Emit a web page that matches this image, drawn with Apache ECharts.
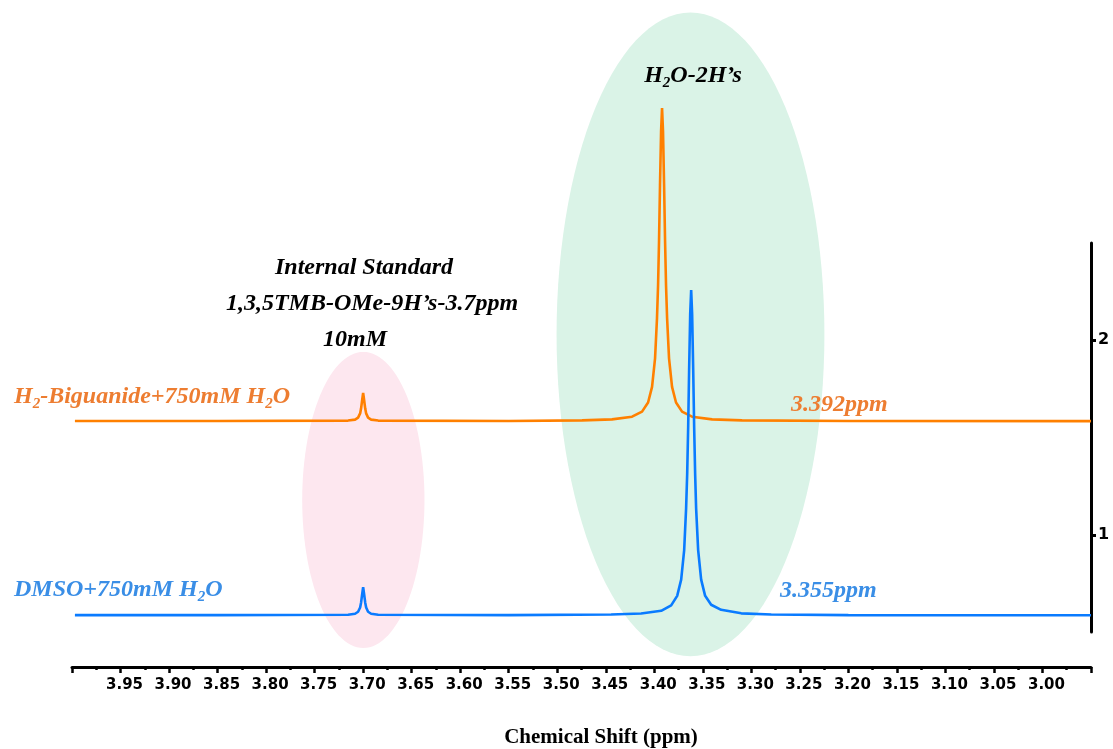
<!DOCTYPE html>
<html lang="en">
<head>
<meta charset="UTF-8">
<title>Chemical Shift</title>
<style>
    html, body { margin: 0; padding: 0; background: #fff; }
    #main { width: 1113px; height: 749px; }
</style>
<script src="https://cdn.jsdelivr.net/npm/echarts@6/dist/echarts.min.js"></script>
</head>
<body>
<div id="main"></div>
<script type="text/javascript">

    // [ppm, intensity]
    var biguanide = [
        [3.997, 1.585], [3.85, 1.585], [3.7155, 1.587], [3.7083, 1.592], [3.7052, 1.602],
        [3.7031, 1.624], [3.7021, 1.650], [3.7010, 1.693], [3.700, 1.729], [3.6990, 1.693],
        [3.6979, 1.650], [3.6969, 1.624], [3.6949, 1.602], [3.6918, 1.592], [3.6845, 1.587],
        [3.55, 1.585], [3.4745, 1.588], [3.4436, 1.593], [3.4229, 1.607], [3.4126, 1.633],
        [3.4064, 1.680], [3.4023, 1.760], [3.3992, 1.907], [3.3972, 2.114], [3.3961, 2.283],
        [3.3951, 2.512], [3.3941, 2.798], [3.3930, 3.073], [3.392, 3.194], [3.3910, 3.073],
        [3.3899, 2.798], [3.3889, 2.512], [3.3879, 2.283], [3.3868, 2.114], [3.3848, 1.907],
        [3.3817, 1.760], [3.3776, 1.680], [3.3714, 1.633], [3.3611, 1.607], [3.3404, 1.593],
        [3.3095, 1.588], [3.20, 1.585], [2.95, 1.584]
    ];
    var dmso = [
        [3.997, 0.587], [3.85, 0.587], [3.7155, 0.589], [3.7083, 0.594], [3.7052, 0.604],
        [3.7031, 0.626], [3.7021, 0.652], [3.7010, 0.695], [3.700, 0.731], [3.6990, 0.695],
        [3.6979, 0.652], [3.6969, 0.626], [3.6949, 0.604], [3.6918, 0.594], [3.6845, 0.589],
        [3.55, 0.587], [3.4445, 0.590], [3.4136, 0.595], [3.3929, 0.609], [3.3826, 0.637],
        [3.3764, 0.686], [3.3723, 0.769], [3.3692, 0.921], [3.3672, 1.137], [3.3661, 1.312],
        [3.3651, 1.550], [3.3641, 1.847], [3.3630, 2.133], [3.362, 2.258], [3.3610, 2.133],
        [3.3599, 1.847], [3.3589, 1.550], [3.3579, 1.312], [3.3569, 1.137], [3.3548, 0.921],
        [3.3517, 0.769], [3.3476, 0.686], [3.3414, 0.640], [3.3311, 0.614], [3.3104, 0.596],
        [3.2795, 0.590], [3.20, 0.587], [2.95, 0.586]
    ];
    // highlight ellipses: [center ppm, center intensity, half width (ppm), half height]
    var waterZone = [[3.3627, 2.030, 0.138, 1.655]];
    var standardZone = [[3.6998, 1.179, 0.063, 0.761]];
    var yTicks = [1, 2];

    var serif = "'Liberation Serif', 'Times New Roman', serif";
    var sans = "'DejaVu Sans', Verdana, sans-serif";

    function ellipseItem(params, api) {
        var c = api.coord([api.value(0), api.value(1)]);
        var s = api.size([api.value(2), api.value(3)]);
        var rx = Math.abs(s[0]), ry = Math.abs(s[1]);
        var pts = [];
        for (var i = 0; i < 120; i++) {
            var a = i / 120 * Math.PI * 2;
            pts.push([c[0] + rx * Math.cos(a), c[1] + ry * Math.sin(a)]);
        }
        return {
            type: 'polygon',
            shape: { points: pts },
            style: { fill: api.visual('color') }
        };
    }

    // rich styles for italic labels with subscripts (zrender names, no ec4 conversion)
    function richFor(color) {
        return {
            a: { fill: color, fontFamily: serif, fontSize: 24, fontWeight: 'bold', fontStyle: 'italic', lineHeight: 30 },
            s: { fill: color, fontFamily: serif, fontSize: 15, fontWeight: 'bold', fontStyle: 'italic', lineHeight: 15, padding: [14, 0, 0, 0] }
        };
    }

    function label(x, y, text, color, align) {
        return {
            type: 'text',
            x: x,
            y: y,
            z: 20,
            silent: true,
            style: {
                legacy: false,
                text: text,
                fill: color,
                rich: richFor(color),
                align: align,
                verticalAlign: 'middle'
            }
        };
    }

    var myChart = echarts.init(document.getElementById('main'));
    var option = {
        animation: false,
        grid: { left: 72, right: 22, top: 243, bottom: 117 },
        xAxis: {
            type: 'value',
            inverse: true,
            min: 2.95,
            max: 4.0,
            interval: 0.05,
            offset: 35,
            axisLine: { onZero: false, lineStyle: { color: '#000', width: 3 } },
            axisTick: { length: 6, lineStyle: { color: '#000', width: 2.5 } },
            minorTick: { show: true, splitNumber: 2, length: 3, lineStyle: { color: '#000', width: 2.5 } },
            splitLine: { show: false },
            axisLabel: {
                showMinLabel: false,
                showMaxLabel: false,
                margin: 11,
                color: '#000',
                fontFamily: sans,
                fontWeight: 'bold',
                fontSize: 15,
                padding: [0, 0, 0, 8],
                formatter: function (v) { return v.toFixed(2); }
            }
        },
        yAxis: {
            type: 'value',
            position: 'right',
            min: 0.5,
            max: 2.5,
            axisLine: { show: true, onZero: false, lineStyle: { color: '#000', width: 3 } },
            axisTick: { show: true, customValues: yTicks, length: 5, lineStyle: { color: '#000', width: 3 } },
            splitLine: { show: false },
            axisLabel: {
                customValues: yTicks,
                margin: 7,
                color: '#000',
                fontFamily: sans,
                fontWeight: 'bold',
                fontSize: 16
            }
        },
        series: [
            {
                type: 'custom',
                name: 'water',
                clip: false,
                silent: true,
                z: 1,
                itemStyle: { color: '#daf3e7' },
                encode: { x: 0, y: 1 },
                renderItem: ellipseItem,
                data: waterZone
            },
            {
                type: 'custom',
                name: 'standard',
                clip: false,
                silent: true,
                z: 1,
                itemStyle: { color: '#fde7ef' },
                encode: { x: 0, y: 1 },
                renderItem: ellipseItem,
                data: standardZone
            },
            {
                type: 'line',
                name: 'H2-Biguanide+750mM H2O',
                clip: false,
                z: 3,
                showSymbol: false,
                lineStyle: { color: '#ff8000', width: 2.6 },
                data: biguanide
            },
            {
                type: 'line',
                name: 'DMSO+750mM H2O',
                clip: false,
                z: 3,
                showSymbol: false,
                lineStyle: { color: '#0a7bff', width: 2.6 },
                data: dmso
            }
        ],
        graphic: [
            label(693, 76, '{a|H}{s|2}{a|O-2H’s}', '#000', 'center'),
            label(364, 268, '{a|Internal Standard}', '#000', 'center'),
            label(372, 304, '{a|1,3,5TMB-OMe-9H’s-3.7ppm}', '#000', 'center'),
            label(355, 340, '{a|10mM}', '#000', 'center'),
            label(14, 397, '{a|H}{s|2}{a|-Biguanide+750mM H}{s|2}{a|O}', '#ed7d31', 'left'),
            label(14, 590, '{a|DMSO+750mM H}{s|2}{a|O}', '#3a8ee6', 'left'),
            label(791, 405, '{a|3.392ppm}', '#ed7d31', 'left'),
            label(780, 591, '{a|3.355ppm}', '#3a8ee6', 'left'),
            {
                type: 'text',
                x: 601,
                y: 738,
                z: 20,
                silent: true,
                style: {
                    legacy: false,
                    text: 'Chemical Shift (ppm)',
                    fill: '#000',
                    font: "bold 21px 'Liberation Serif', 'Times New Roman', serif",
                    align: 'center',
                    verticalAlign: 'middle'
                }
            }
        ]
    };
    myChart.setOption(option);

</script>
</body>
</html>
